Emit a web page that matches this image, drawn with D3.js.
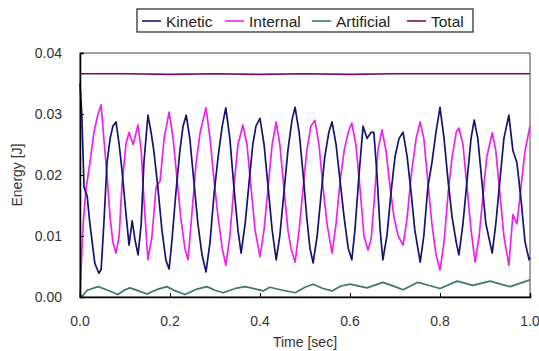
<!DOCTYPE html>
<html>
<head>
<meta charset="utf-8">
<script src="https://cdn.jsdelivr.net/npm/d3@7"></script>
<style>
  body { margin: 0; background: #fff; }
  svg { display: block; font-family: "Liberation Sans", Arial, sans-serif; }
</style>
</head>
<body>
<div id="chart"></div>
<script>
// values, [time (sec), energy (J)]
const kinetic = [
  [0.000,0.0350],[0.004,0.0300],[0.009,0.0180],[0.016,0.0165],[0.022,0.0120],[0.033,0.0055],
  [0.042,0.0039],[0.047,0.0045],[0.053,0.0120],[0.060,0.0220],[0.067,0.0260],[0.073,0.0280],
  [0.080,0.0287],[0.087,0.0250],[0.093,0.0210],[0.102,0.0138],[0.109,0.0085],[0.116,0.0125],
  [0.122,0.0095],[0.129,0.0069],[0.136,0.0120],[0.142,0.0220],[0.151,0.0298],[0.158,0.0270],
  [0.164,0.0240],[0.173,0.0180],[0.182,0.0110],[0.191,0.0060],[0.198,0.0046],[0.204,0.0090],
  [0.213,0.0170],[0.222,0.0240],[0.229,0.0280],[0.236,0.0298],[0.244,0.0260],[0.253,0.0190],
  [0.262,0.0120],[0.271,0.0070],[0.280,0.0041],[0.289,0.0090],[0.298,0.0170],[0.307,0.0230],
  [0.316,0.0280],[0.324,0.0310],[0.333,0.0260],[0.342,0.0180],[0.351,0.0110],[0.358,0.0072],
  [0.367,0.0120],[0.376,0.0190],[0.384,0.0250],[0.391,0.0280],[0.400,0.0293],[0.409,0.0250],
  [0.418,0.0180],[0.427,0.0110],[0.436,0.0061],[0.444,0.0100],[0.453,0.0170],[0.462,0.0240],
  [0.471,0.0290],[0.478,0.0311],[0.487,0.0270],[0.496,0.0200],[0.504,0.0130],[0.511,0.0080],
  [0.518,0.0056],[0.527,0.0100],[0.536,0.0170],[0.544,0.0230],[0.553,0.0270],[0.560,0.0287],
  [0.569,0.0250],[0.578,0.0190],[0.587,0.0130],[0.596,0.0080],[0.604,0.0061],[0.611,0.0110],
  [0.620,0.0200],[0.629,0.0280],[0.638,0.0260],[0.647,0.0270],[0.653,0.0270],[0.660,0.0200],
  [0.667,0.0110],[0.673,0.0061],[0.682,0.0100],[0.691,0.0170],[0.700,0.0230],[0.709,0.0260],
  [0.718,0.0270],[0.727,0.0230],[0.736,0.0170],[0.744,0.0110],[0.756,0.0057],[0.764,0.0100],
  [0.773,0.0180],[0.782,0.0220],[0.791,0.0270],[0.800,0.0311],[0.809,0.0260],[0.818,0.0190],
  [0.827,0.0130],[0.836,0.0090],[0.842,0.0069],[0.851,0.0120],[0.860,0.0190],[0.869,0.0260],
  [0.876,0.0290],[0.884,0.0260],[0.893,0.0190],[0.902,0.0120],[0.916,0.0072],[0.924,0.0120],
  [0.933,0.0190],[0.942,0.0260],[0.953,0.0298],[0.962,0.0240],[0.971,0.0220],[0.980,0.0160],
  [0.989,0.0090],[0.998,0.0061],[1.000,0.0065]
];
const internal = [
  [0.000,0.0000],[0.002,0.0040],[0.007,0.0120],[0.013,0.0175],[0.022,0.0220],[0.031,0.0270],
  [0.040,0.0300],[0.047,0.0315],[0.053,0.0260],[0.060,0.0200],[0.067,0.0130],[0.073,0.0090],
  [0.080,0.0072],[0.087,0.0100],[0.093,0.0180],[0.102,0.0250],[0.109,0.0270],[0.118,0.0250],
  [0.129,0.0282],[0.136,0.0240],[0.142,0.0160],[0.151,0.0061],[0.160,0.0100],[0.169,0.0180],
  [0.178,0.0190],[0.187,0.0260],[0.198,0.0303],[0.207,0.0260],[0.216,0.0190],[0.224,0.0130],
  [0.233,0.0080],[0.240,0.0061],[0.249,0.0140],[0.258,0.0220],[0.267,0.0270],[0.280,0.0310],
  [0.289,0.0260],[0.298,0.0190],[0.307,0.0130],[0.316,0.0080],[0.324,0.0052],[0.333,0.0100],
  [0.342,0.0180],[0.351,0.0250],[0.362,0.0282],[0.371,0.0250],[0.380,0.0180],[0.389,0.0110],
  [0.400,0.0066],[0.409,0.0110],[0.418,0.0180],[0.427,0.0250],[0.436,0.0287],[0.444,0.0250],
  [0.453,0.0180],[0.462,0.0110],[0.469,0.0080],[0.478,0.0057],[0.487,0.0110],[0.496,0.0180],
  [0.504,0.0240],[0.513,0.0280],[0.522,0.0290],[0.531,0.0250],[0.540,0.0180],[0.549,0.0120],
  [0.560,0.0072],[0.569,0.0120],[0.578,0.0190],[0.587,0.0240],[0.596,0.0270],[0.604,0.0285],
  [0.613,0.0250],[0.622,0.0180],[0.631,0.0100],[0.640,0.0077],[0.647,0.0095],[0.653,0.0150],
  [0.662,0.0240],[0.671,0.0274],[0.680,0.0240],[0.689,0.0180],[0.698,0.0130],[0.707,0.0100],
  [0.718,0.0085],[0.727,0.0130],[0.736,0.0200],[0.747,0.0260],[0.756,0.0287],[0.764,0.0260],
  [0.773,0.0190],[0.782,0.0120],[0.791,0.0070],[0.800,0.0044],[0.809,0.0090],[0.818,0.0170],
  [0.827,0.0230],[0.836,0.0270],[0.842,0.0277],[0.851,0.0250],[0.860,0.0180],[0.869,0.0110],
  [0.878,0.0057],[0.887,0.0100],[0.896,0.0170],[0.904,0.0230],[0.916,0.0269],[0.924,0.0240],
  [0.933,0.0170],[0.942,0.0100],[0.953,0.0052],[0.962,0.0135],[0.971,0.0120],[0.980,0.0180],
  [0.989,0.0240],[1.000,0.0280]
];
const artificial = [
  [0.000,0.0000],[0.007,0.0003],[0.016,0.0011],[0.040,0.0017],[0.062,0.0011],[0.084,0.0004],
  [0.100,0.0012],[0.111,0.0015],[0.130,0.0010],[0.149,0.0005],[0.170,0.0012],[0.193,0.0017],
  [0.212,0.0010],[0.233,0.0004],[0.260,0.0013],[0.282,0.0017],[0.300,0.0011],[0.318,0.0007],
  [0.345,0.0014],[0.367,0.0017],[0.407,0.0010],[0.422,0.0016],[0.450,0.0011],[0.478,0.0007],
  [0.500,0.0016],[0.518,0.0021],[0.540,0.0014],[0.560,0.0010],[0.580,0.0018],[0.600,0.0021],
  [0.638,0.0015],[0.673,0.0024],[0.700,0.0017],[0.718,0.0012],[0.751,0.0024],[0.780,0.0018],
  [0.800,0.0014],[0.838,0.0026],[0.873,0.0019],[0.911,0.0026],[0.935,0.0021],[0.956,0.0017],
  [1.000,0.0028]
];
const total = [
  [0.000,0.0366],[0.100,0.0366],[0.200,0.0365],[0.300,0.0366],[0.400,0.0365],[0.500,0.0366],
  [0.600,0.0365],[0.700,0.0366],[0.800,0.0366],[0.900,0.0366],[1.000,0.0366]
];
const xTicks = [0, 0.2, 0.4, 0.6, 0.8, 1.0];
const yTicks = [0, 0.01, 0.02, 0.03, 0.04];
const seriesNames = ["Kinetic", "Internal", "Artificial", "Total"];
const seriesColors = ["#14146e", "#ee22ee", "#3a7d5a", "#7a0a5a"];

const width = 539, height = 351;
const margin = { top: 53, right: 9, bottom: 54, left: 80 };

const svg = d3.select("#chart").append("svg")
  .attr("width", width).attr("height", height);

const x = d3.scaleLinear().domain([0, 1]).range([margin.left, width - margin.right]);
const y = d3.scaleLinear().domain([0, 0.04]).range([height - margin.bottom, margin.top]);

// frame
svg.append("rect")
  .attr("x", x(0)).attr("y", y(0.04))
  .attr("width", x(1) - x(0)).attr("height", y(0) - y(0.04))
  .attr("fill", "none").attr("stroke", "#444").attr("stroke-width", 1);

const line = d3.line().x(d => x(d[0])).y(d => y(d[1]));
const all = [kinetic, internal, artificial, total];

svg.append("g").selectAll("path")
  .data([artificial, internal, kinetic, total])
  .join("path")
    .attr("d", line)
    .attr("fill", "none")
    .attr("stroke", d => seriesColors[all.indexOf(d)])
    .attr("stroke-width", 1.7)
    .attr("stroke-linejoin", "round");

// axes
const yAxis = svg.append("g")
  .attr("transform", `translate(${x(0)},0)`)
  .call(d3.axisRight(y).tickValues(yTicks).tickSize(4).tickFormat(""));
yAxis.select(".domain").attr("stroke", "#000").attr("stroke-width", 1.5);

const xAxis = svg.append("g")
  .attr("transform", `translate(0,${y(0)})`)
  .call(d3.axisTop(x).tickValues(xTicks).tickSize(4).tickFormat(""));
xAxis.select(".domain").attr("stroke", "#000").attr("stroke-width", 1.5);

svg.append("g").selectAll("text")
  .data(yTicks)
  .join("text")
    .attr("x", 62).attr("y", d => y(d) + 5)
    .attr("text-anchor", "end")
    .attr("font-size", 14).attr("fill", "#333")
    .text(d => d3.format(".2f")(d));

svg.append("g").selectAll("text")
  .data(xTicks)
  .join("text")
    .attr("x", d => x(d)).attr("y", 326)
    .attr("text-anchor", "middle")
    .attr("font-size", 14).attr("fill", "#333")
    .text(d => d3.format(".1f")(d));

svg.append("text")
  .attr("x", 305).attr("y", 347)
  .attr("text-anchor", "middle")
  .attr("font-size", 14).attr("fill", "#333")
  .text("Time [sec]");

svg.append("text")
  .attr("transform", "translate(22,175) rotate(-90)")
  .attr("text-anchor", "middle")
  .attr("font-size", 14).attr("fill", "#333")
  .text("Energy [J]");

// legend
const legendX = [142, 225, 312, 407];
const legend = svg.append("g");
legend.append("rect")
  .attr("x", 137).attr("y", 9).attr("width", 336).attr("height", 23)
  .attr("fill", "#fff").attr("stroke", "#222").attr("stroke-width", 1.2);

seriesNames.forEach((name, i) => {
  legend.append("line")
    .attr("x1", legendX[i]).attr("x2", legendX[i] + 19).attr("y1", 21).attr("y2", 21)
    .attr("stroke", seriesColors[i]).attr("stroke-width", 1.6);
  legend.append("text")
    .attr("x", legendX[i] + 24).attr("y", 26.5)
    .attr("font-size", 15.5).attr("fill", "#222")
    .text(name);
});
</script>
</body>
</html>
